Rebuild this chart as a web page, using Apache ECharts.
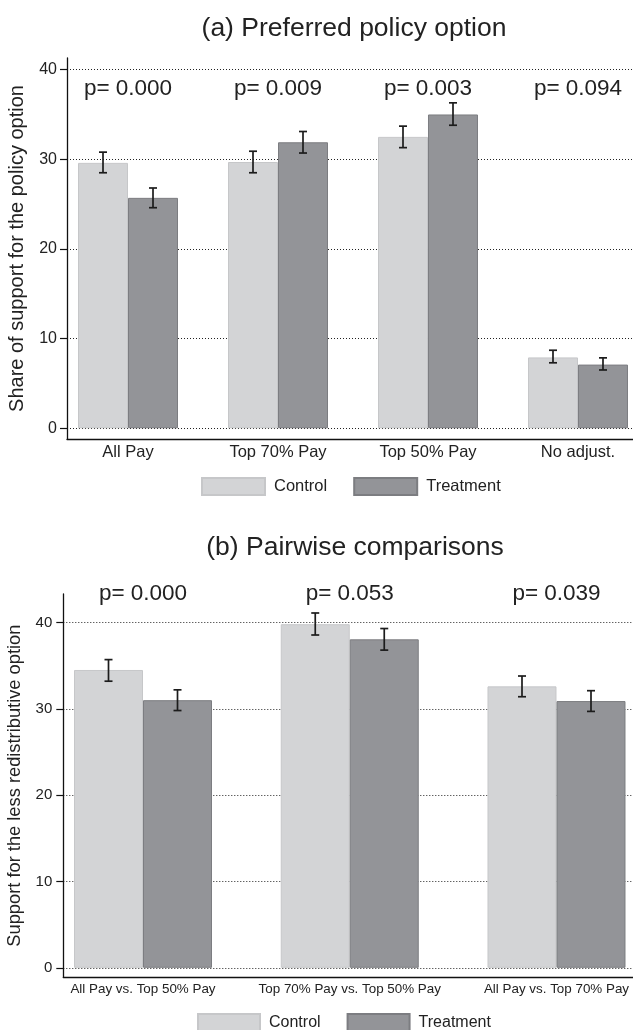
<!DOCTYPE html>
<html>
<head>
<meta charset="utf-8">
<script src="https://cdn.jsdelivr.net/npm/echarts@6/dist/echarts.min.js"></script>
<style>
html,body{margin:0;padding:0;background:#fff;}
#a,#b{width:633px;height:515px;}
</style>
</head>
<body>
<div id="a"></div>
<div id="b"></div>
<script>
// ---- Panel (a) data ----
const catsA = ['All Pay', 'Top 70% Pay', 'Top 50% Pay', 'No adjust.'];
const controlA = [29.6, 29.7, 32.5, 7.9];
const treatA = [25.7, 31.9, 35.0, 7.1];
const controlLoA = [28.5, 28.5, 31.3, 7.3];
const controlHiA = [30.8, 30.9, 33.7, 8.7];
const treatLoA = [24.6, 30.7, 33.8, 6.5];
const treatHiA = [26.8, 33.1, 36.3, 7.85];
const pA = ['p= 0.000', 'p= 0.009', 'p= 0.003', 'p= 0.094'];

// ---- Panel (b) data ----
const catsB = ['All Pay vs. Top 50% Pay', 'Top 70% Pay vs. Top 50% Pay', 'All Pay vs. Top 70% Pay'];
const controlB = [34.5, 39.8, 32.6];
const treatB = [31.0, 38.05, 30.9];
const controlLoB = [33.2, 38.55, 31.4];
const controlHiB = [35.7, 41.1, 33.8];
const treatLoB = [29.8, 36.8, 29.7];
const treatHiB = [32.2, 39.3, 32.1];
const pB = ['p= 0.000', 'p= 0.053', 'p= 0.039'];

const yTicks = [0, 10, 20, 30, 40];
const seriesNames = ['Control', 'Treatment'];

const FONT = '"Liberation Sans", Arial, Helvetica, sans-serif';
const TXT = '#222222';

function build(el, c) {
  const chart = echarts.init(document.getElementById(el), null, {renderer: 'canvas'});
  const idx = c.cats.map((_, i) => i);

  const errSeries = (lo, hi, sign) => ({
    type: 'custom',
    silent: true,
    z: 5,
    encode: {x: 0, y: [1, 2]},
    renderItem: (params, api) => {
      const x = api.value(0);
      const p1 = api.coord([x, api.value(1)]);
      const p2 = api.coord([x, api.value(2)]);
      const cx = p1[0] + sign * c.barWidth / 2;
      const cap = 4;
      const st = {stroke: '#1c1c1c', lineWidth: 1.7};
      return {type: 'group', children: [
        {type: 'line', shape: {x1: cx, y1: p1[1], x2: cx, y2: p2[1]}, style: st},
        {type: 'line', shape: {x1: cx - cap, y1: p1[1], x2: cx + cap, y2: p1[1]}, style: st},
        {type: 'line', shape: {x1: cx - cap, y1: p2[1], x2: cx + cap, y2: p2[1]}, style: st}
      ]};
    },
    data: idx.map(i => [i, lo[i], hi[i]])
  });

  const option = {
    animation: false,
    backgroundColor: '#ffffff',
    title: {
      text: c.title,
      left: c.titleX,
      top: c.titleTop,
      textAlign: 'center',
      textStyle: {fontFamily: FONT, fontSize: 26.5, fontWeight: 'normal', color: TXT}
    },
    legend: {
      data: seriesNames,
      left: c.legendLeft,
      top: c.legendTop,
      padding: 0,
      icon: 'rect',
      itemWidth: c.legendW,
      itemHeight: 17,
      itemGap: 26,
      textStyle: {fontFamily: FONT, fontSize: c.legendFont, color: TXT, padding: [0, 0, 0, 4]}
    },
    grid: {
      left: c.gridLeft, top: c.gridTop, width: c.gridW, height: c.gridH,
      containLabel: false, outerBoundsMode: 'none'
    },
    xAxis: {
      type: 'value',
      min: c.xMin, max: c.xMax,
      axisLine: {show: true, onZero: false, lineStyle: {color: '#111', width: 1.3}},
      axisTick: {show: false},
      splitLine: {show: false},
      axisLabel: {
        customValues: idx,
        formatter: v => c.cats[Math.round(v)],
        fontFamily: FONT, fontSize: c.xFont, color: TXT, margin: c.xMargin
      }
    },
    yAxis: {
      type: 'value',
      min: c.yMin, max: c.yMax,
      name: c.yName,
      nameLocation: 'middle',
      nameRotate: 90,
      nameGap: c.nameGap,
      nameTextStyle: {fontFamily: FONT, fontSize: c.yNameFont, color: TXT},
      axisLine: {show: true, onZero: false, lineStyle: {color: '#111', width: 1.3}},
      axisTick: {show: true, customValues: yTicks, length: 7, lineStyle: {color: '#111', width: 1.2}},
      axisLabel: {customValues: yTicks, fontFamily: FONT, fontSize: c.yFont, color: TXT, margin: c.yMargin},
      splitLine: {show: true, lineStyle: {color: '#222', width: 1, type: [1, 2]}}
    },
    series: [
      {
        name: 'Control', type: 'bar',
        barWidth: c.barWidth, barGap: '0%',
        itemStyle: {color: '#d3d4d6', borderColor: '#c6c7c9', borderWidth: 1},
        data: idx.map(i => [i, c.control[i]])
      },
      {
        name: 'Treatment', type: 'bar',
        barWidth: c.barWidth, barGap: '0%',
        itemStyle: {color: '#939498', borderColor: '#7c7d81', borderWidth: 1},
        data: idx.map(i => [i, c.treat[i]])
      },
      errSeries(c.controlLo, c.controlHi, -1),
      errSeries(c.treatLo, c.treatHi, 1),
      {
        type: 'custom', silent: true, z: 6,
        encode: {x: 0, y: 1},
        renderItem: (params, api) => {
          const p = api.coord([api.value(0), api.value(1)]);
          return {type: 'text', x: p[0], y: p[1], style: {
            text: c.p[params.dataIndex], fill: TXT,
            font: '22.5px ' + FONT, textAlign: 'center', textVerticalAlign: 'middle'
          }};
        },
        data: idx.map(i => [i, c.pY])
      }
    ]
  };
  chart.setOption(option);
}

build('a', {
  title: '(a) Preferred policy option', titleX: 349, titleTop: 10,
  cats: catsA, control: controlA, treat: treatA,
  controlLo: controlLoA, controlHi: controlHiA, treatLo: treatLoA, treatHi: treatHiA,
  p: pA, pY: 37.9,
  gridLeft: 67, gridTop: 58, gridW: 572, gridH: 381,
  xMin: -0.4067, xMax: 3.4067, yMin: -1.2, yMax: 41.3,
  barWidth: 50,
  yName: 'Share of support for the policy option', yNameFont: 20, nameGap: 40,
  yFont: 16, yMargin: 10, xFont: 16.5, xMargin: 5,
  legendLeft: 201, legendTop: 477, legendW: 63, legendFont: 16.5
});

build('b', {
  title: '(b) Pairwise comparisons', titleX: 350, titleTop: 14.5,
  cats: catsB, control: controlB, treat: treatB,
  controlLo: controlLoB, controlHi: controlHiB, treatLo: treatLoB, treatHi: treatHiB,
  p: pB, pY: 43.3,
  gridLeft: 63.3, gridTop: 79, gridW: 572.9, gridH: 383.3,
  xMin: -0.3855, xMax: 2.3855, yMin: -1.1, yMax: 43.3,
  barWidth: 69,
  yName: 'Support for the less redistributive option', yNameFont: 18.3, nameGap: 39,
  yFont: 15, yMargin: 11, xFont: 13.4, xMargin: 6,
  legendLeft: 197, legendTop: 498, legendW: 62, legendFont: 16
});
</script>
</body>
</html>
